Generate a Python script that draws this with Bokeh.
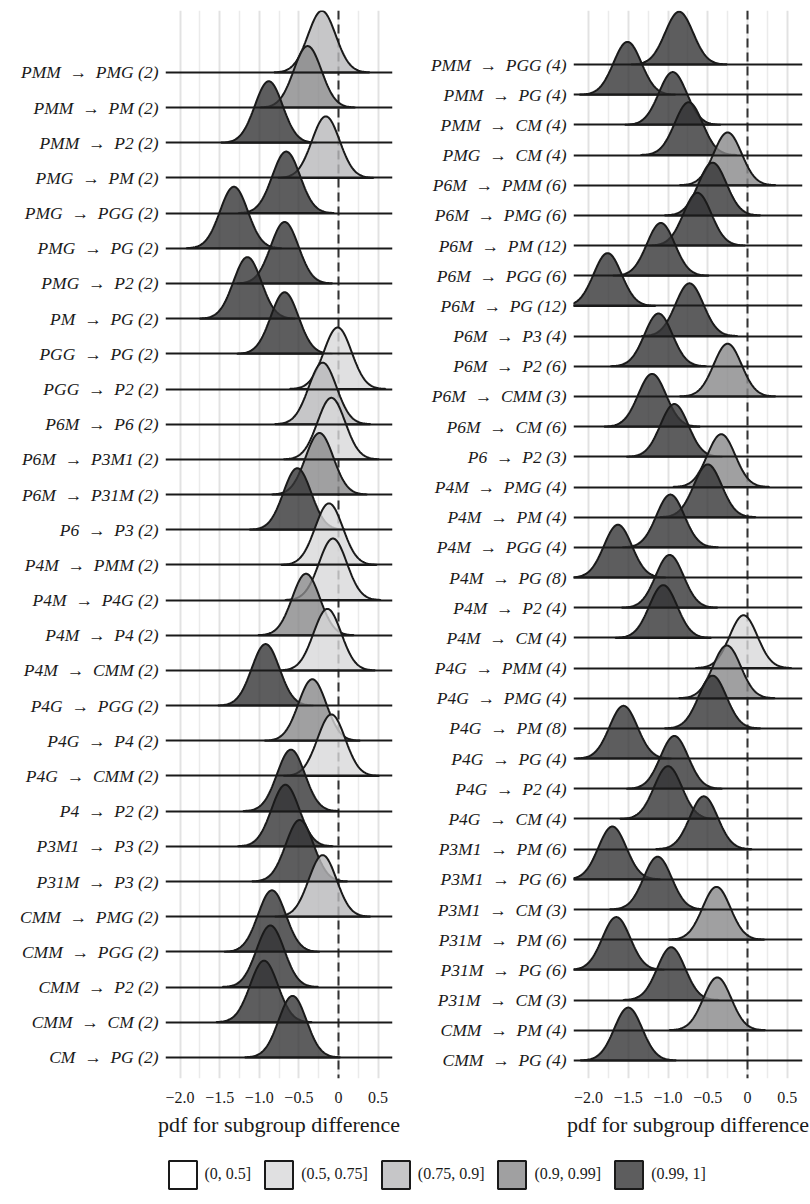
import numpy as np
from bokeh.plotting import figure
from bokeh.layouts import column, row
from bokeh.models import FixedTicker, Legend, LegendItem, ColumnDataSource
from bokeh.embed import file_html
from bokeh.resources import INLINE

# ---------------- data ----------------
classes = ["(0, 0.5]", "(0.5, 0.75]", "(0.75, 0.9]", "(0.9, 0.99]", "(0.99, 1]"]

labels_left = ["PMM → PMG (2)", "PMM → PM (2)", "PMM → P2 (2)", "PMG → PM (2)",
               "PMG → PGG (2)", "PMG → PG (2)", "PMG → P2 (2)", "PM → PG (2)",
               "PGG → PG (2)", "PGG → P2 (2)", "P6M → P6 (2)", "P6M → P3M1 (2)",
               "P6M → P31M (2)", "P6 → P3 (2)", "P4M → PMM (2)", "P4M → P4G (2)",
               "P4M → P4 (2)", "P4M → CMM (2)", "P4G → PGG (2)", "P4G → P4 (2)",
               "P4G → CMM (2)", "P4 → P2 (2)", "P3M1 → P3 (2)", "P31M → P3 (2)",
               "CMM → PMG (2)", "CMM → PGG (2)", "CMM → P2 (2)", "CMM → CM (2)",
               "CM → PG (2)"]
means_left = [-0.21, -0.39, -0.88, -0.16, -0.66, -1.32, -0.68, -1.15, -0.68, -0.01,
              -0.20, -0.09, -0.24, -0.52, -0.12, -0.07, -0.41, -0.14, -0.92, -0.33,
              -0.09, -0.60, -0.67, -0.49, -0.20, -0.84, -0.86, -0.94, -0.58]
class_left = [2, 3, 4, 2, 4, 4, 4, 4, 4, 1,
              2, 1, 3, 4, 1, 1, 3, 1, 4, 3,
              1, 4, 4, 4, 2, 4, 4, 4, 4]

labels_right = ["PMM → PGG (4)", "PMM → PG (4)", "PMM → CM (4)", "PMG → CM (4)",
                "P6M → PMM (6)", "P6M → PMG (6)", "P6M → PM (12)", "P6M → PGG (6)",
                "P6M → PG (12)", "P6M → P3 (4)", "P6M → P2 (6)", "P6M → CMM (3)",
                "P6M → CM (6)", "P6 → P2 (3)", "P4M → PMG (4)", "P4M → PM (4)",
                "P4M → PGG (4)", "P4M → PG (8)", "P4M → P2 (4)", "P4M → CM (4)",
                "P4G → PMM (4)", "P4G → PMG (4)", "P4G → PM (8)", "P4G → PG (4)",
                "P4G → P2 (4)", "P4G → CM (4)", "P3M1 → PM (6)", "P3M1 → PG (6)",
                "P3M1 → CM (3)", "P31M → PM (6)", "P31M → PG (6)", "P31M → CM (3)",
                "CMM → PM (4)", "CMM → PG (4)"]
means_right = [-0.86, -1.51, -0.94, -0.74, -0.25, -0.44, -0.63, -1.09, -1.76, -0.73,
               -1.12, -0.25, -1.20, -0.92, -0.33, -0.50, -0.97, -1.63, -0.98, -1.06,
               -0.05, -0.26, -0.44, -1.56, -0.92, -1.00, -0.55, -1.70, -1.13, -0.39,
               -1.65, -0.96, -0.38, -1.50]
class_right = [4, 4, 4, 4, 3, 4, 4, 4, 4, 4,
               4, 3, 4, 4, 3, 4, 4, 4, 4, 4,
               1, 3, 4, 4, 4, 4, 4, 4, 4, 3,
               4, 4, 3, 4]

x_ticks = [-2.0, -1.5, -1.0, -0.5, 0.0, 0.5]
x_tick_labels = ["−2.0", "−1.5", "−1.0", "−0.5", "0", "0.5"]
x_minor = [-1.75, -1.25, -0.75, -0.25, 0.25]

# ---------------- style ----------------
class_fill = ["#ffffff", "#d8d8da", "#b8b8ba", "#88888a", "#343436"]
FILL_ALPHA = 0.8
SD = 0.175
HALF = 0.6
SCALE = 1.75
INK = "#1a1a1a"
SERIF = "Liberation Serif"
H = 1140
TOP = 10
FRAME_H = 1068


def widen(lab):
    # wider spacing around the arrow, as in the typeset labels
    return lab.replace(" → ", "\u2002→\u2002")


def make_panel(labels, means, cls, width, bl, br, xr, ytop):
    n = len(labels)
    ys = list(range(n - 1, -1, -1))
    p = figure(width=width, height=H, x_range=xr, y_range=(-0.6, ytop),
               output_backend="svg", toolbar_location=None,
               min_border_left=bl, min_border_right=br,
               min_border_top=TOP, min_border_bottom=H - TOP - FRAME_H)
    p.outline_line_color = None
    p.background_fill_color = "white"
    p.ygrid.visible = False

    p.xaxis.ticker = FixedTicker(ticks=x_ticks, minor_ticks=x_minor)
    p.xaxis.major_label_overrides = {t: s for t, s in zip(x_ticks, x_tick_labels)}
    p.xgrid.grid_line_color = "#e2e2e2"
    p.xgrid.grid_line_width = 2
    p.xgrid.minor_grid_line_color = "#ebebeb"
    p.xgrid.minor_grid_line_width = 1.5

    p.xaxis.axis_line_color = None
    p.xaxis.major_tick_line_color = None
    p.xaxis.minor_tick_line_color = None
    p.xaxis.major_tick_out = 0
    p.xaxis.major_label_standoff = 9
    p.xaxis.major_label_text_font = SERIF
    p.xaxis.major_label_text_font_size = "16px"
    p.xaxis.major_label_text_color = INK
    p.xaxis.axis_label = "pdf for subgroup difference"
    p.xaxis.axis_label_text_font = SERIF
    p.xaxis.axis_label_text_font_style = "normal"
    p.xaxis.axis_label_text_font_size = "22px"
    p.xaxis.axis_label_text_color = INK
    p.xaxis.axis_label_standoff = 6

    p.yaxis.ticker = FixedTicker(ticks=ys)
    p.yaxis.major_label_overrides = {y: widen(lab) for y, lab in zip(ys, labels)}
    p.yaxis.axis_line_color = None
    p.yaxis.major_tick_line_color = None
    p.yaxis.minor_tick_line_color = None
    p.yaxis.major_tick_out = 0
    p.yaxis.major_label_standoff = 7
    p.yaxis.major_label_text_font = SERIF
    p.yaxis.major_label_text_font_style = "italic"
    p.yaxis.major_label_text_font_size = "17.5px"
    p.yaxis.major_label_text_color = INK

    # dashed reference line at zero (under the ridges)
    p.vspan(x=[0], line_color="#333333", line_width=2, line_dash="9 5")

    xs_list, ys_list, fills = [], [], []
    for y0, m, c in zip(ys, means, cls):
        xs = np.linspace(m - HALF, m + HALF, 90)
        dens = np.exp(-0.5 * ((xs - m) / SD) ** 2)
        xs_list.append(np.concatenate([[xs[0]], xs, [xs[-1]]]))
        ys_list.append(np.concatenate([[y0], y0 + SCALE * dens, [y0]]))
        fills.append(class_fill[c])
    src = ColumnDataSource(dict(xs=xs_list, ys=ys_list, fill=fills))
    p.patches("xs", "ys", source=src, fill_color="fill", fill_alpha=FILL_ALPHA,
              line_color=INK, line_width=2)

    p.hspan(y=ys, line_color=INK, line_width=2)
    return p


left = make_panel(labels_left, means_left, class_left, 400, 165, 8,
                  (-2.184, 0.682), 29.76)
right = make_panel(labels_right, means_right, class_right, 410, 173, 8,
                   (-2.189, 0.692), 34.79)

LG_H = 60
lg = figure(width=810, height=LG_H, x_range=(0, 1), y_range=(0, 1),
            output_backend="svg", toolbar_location=None, min_border=0,
            x_axis_location=None, y_axis_location=None)
lg.grid.visible = False
lg.outline_line_color = None
items = []
for c, col in zip(classes, class_fill):
    r = lg.quad(left=[2], right=[3], bottom=[2], top=[3], fill_color=col,
                fill_alpha=FILL_ALPHA, line_color=INK, line_width=2)
    items.append(LegendItem(label=c, renderers=[r]))
legend = Legend(items=items, orientation="horizontal", location=(164.5, 8.5),
                glyph_width=35, glyph_height=35, label_standoff=5, spacing=10,
                padding=0, margin=0, border_line_color=None,
                background_fill_alpha=0, label_text_font=SERIF,
                label_text_font_size="16px", label_text_color=INK)
lg.add_layout(legend, "center")

layout = column(row(left, right), lg)
open("out.html", "w").write(file_html(layout, INLINE))
